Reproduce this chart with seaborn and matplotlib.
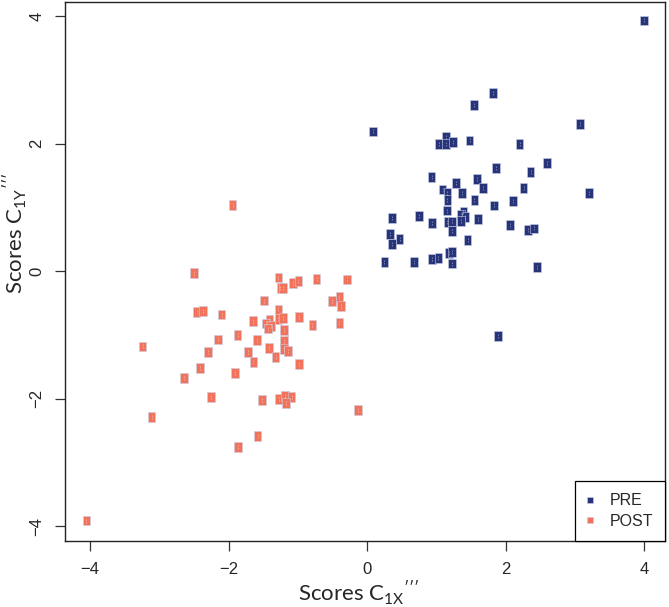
import pandas as pd
import seaborn as sns
import matplotlib.pyplot as plt

# Scores
pre_x = [4.00, 1.82, 1.54, 0.09, 3.07, 1.04, 1.14, 1.14, 1.24, 1.48, 2.20, 2.60, 1.86, 2.36,
         0.93, 1.59, 1.28, 1.67, 2.26, 1.09, 1.16, 1.37, 3.20, 1.16, 1.55, 2.11, 1.83, 1.15,
         1.39, 1.36, 1.42, 0.36, 0.75, 1.60, 0.94, 1.16, 1.23, 1.36, 2.06, 2.32, 2.41, 0.33,
         0.47, 0.36, 1.23, 1.45, 0.25, 0.68, 0.94, 1.03, 1.18, 1.23, 1.23, 2.45, 1.89]
pre_y = [3.93, 2.79, 2.61, 2.19, 2.31, 2.00, 2.11, 2.00, 2.02, 2.05, 2.00, 1.70, 1.62, 1.55,
         1.48, 1.45, 1.38, 1.30, 1.30, 1.28, 1.23, 1.23, 1.22, 1.11, 1.11, 1.10, 1.03, 0.95,
         0.93, 0.88, 0.85, 0.84, 0.87, 0.82, 0.76, 0.77, 0.78, 0.79, 0.72, 0.65, 0.67, 0.58,
         0.50, 0.43, 0.63, 0.49, 0.15, 0.15, 0.19, 0.21, 0.29, 0.30, 0.12, 0.06, -1.02]

post_x = [-1.94, -2.50, -1.28, -1.25, -1.21, -1.07, -0.99, -0.73, -0.29, -1.49, -0.51, -0.40,
          -0.38, -2.46, -2.37, -2.10, -1.28, -1.65, -1.41, -1.46, -1.39, -1.43, -1.28, -1.21,
          -0.98, -0.79, -0.40, -1.20, -2.15, -1.87, -1.59, -1.20, -3.24, -1.42, -1.20, -1.14,
          -2.30, -1.72, -1.32, -1.64, -0.98, -2.41, -1.91, -2.64, -2.25, -1.52, -1.27, -1.18,
          -1.09, -1.17, -0.13, -3.11, -1.58, -1.86, -4.05]
post_y = [1.04, -0.03, -0.10, -0.27, -0.26, -0.19, -0.16, -0.12, -0.13, -0.46, -0.47, -0.40,
          -0.54, -0.64, -0.62, -0.68, -0.60, -0.78, -0.76, -0.82, -0.86, -0.90, -0.75, -0.74,
          -0.72, -0.84, -0.81, -0.92, -1.07, -1.00, -1.08, -1.09, -1.18, -1.20, -1.22, -1.25,
          -1.27, -1.27, -1.35, -1.42, -1.45, -1.52, -1.59, -1.68, -1.97, -2.02, -2.00, -1.96,
          -1.97, -2.07, -2.17, -2.29, -2.58, -2.76, -3.91]

groups = ["PRE", "POST"]
colors = {"PRE": "#27347a", "POST": "#f2735b"}
ticks = [-4, -2, 0, 2, 4]

df = pd.concat([
    pd.DataFrame({"x": pre_x, "y": pre_y, "group": "PRE"}),
    pd.DataFrame({"x": post_x, "y": post_y, "group": "POST"}),
], ignore_index=True)

sns.set_style("white")
plt.rcParams["font.family"] = ["Liberation Sans", "DejaVu Sans"]
plt.rcParams["mathtext.fontset"] = "custom"
plt.rcParams["mathtext.rm"] = "Lato"
plt.rcParams["mathtext.it"] = "Lato:italic"

fig = plt.figure(figsize=(6.69, 6.07), dpi=100)
ax = fig.add_axes([65 / 669, 66 / 607, 600 / 669, 539 / 607])

# tall rectangle marker
rect = [(-0.39, -0.5), (0.39, -0.5), (0.39, 0.5), (-0.39, 0.5), (-0.39, -0.5)]

sns.scatterplot(data=df, x="x", y="y", hue="group", hue_order=groups, palette=colors,
                marker=rect, s=50, edgecolor="#c9cfe6", linewidth=0.4, ax=ax)
sns.scatterplot(data=df, x="x", y="y", color="white", marker="$:$", s=7,
                linewidth=0, alpha=0.8, legend=False, ax=ax)

ax.set_xlim(-4.36, 4.30)
ax.set_ylim(-4.23, 4.22)
ax.set_xticks(ticks)
ax.set_yticks(ticks)
ax.set_xticklabels([str(t).replace("-", "\u2212") for t in ticks])
ax.set_yticklabels([str(t).replace("-", "\u2212") for t in ticks], rotation=90, va="center")
ax.tick_params(axis="both", direction="out", length=7, width=0.9, color="#333333",
               labelsize=12, pad=8, bottom=True, left=True)

for sp in ax.spines.values():
    sp.set_color("#222222")
    sp.set_linewidth(1.0)

ax.set_xlabel(r"Scores C$_{\mathregular{1X}}$$^{\prime\prime\prime}$", fontsize=16, family="Lato")
ax.set_ylabel(r"Scores C$_{\mathregular{1Y}}$$^{\prime\prime\prime}$", fontsize=16, family="Lato")
ax.xaxis.set_label_coords(0.49, -0.071)
ax.yaxis.set_label_coords(-0.059, 0.57)

handles, labels = ax.get_legend_handles_labels()
leg = ax.legend(handles, labels, loc="lower right", borderaxespad=0, fancybox=False,
                frameon=True, edgecolor="black", framealpha=1, fontsize=11.5,
                handletextpad=1.0, borderpad=0.75, labelspacing=0.35, handlelength=0.4,
                markerscale=0.7)
leg.get_frame().set_linewidth(0.9)

plt.savefig("out.png", dpi=100)
